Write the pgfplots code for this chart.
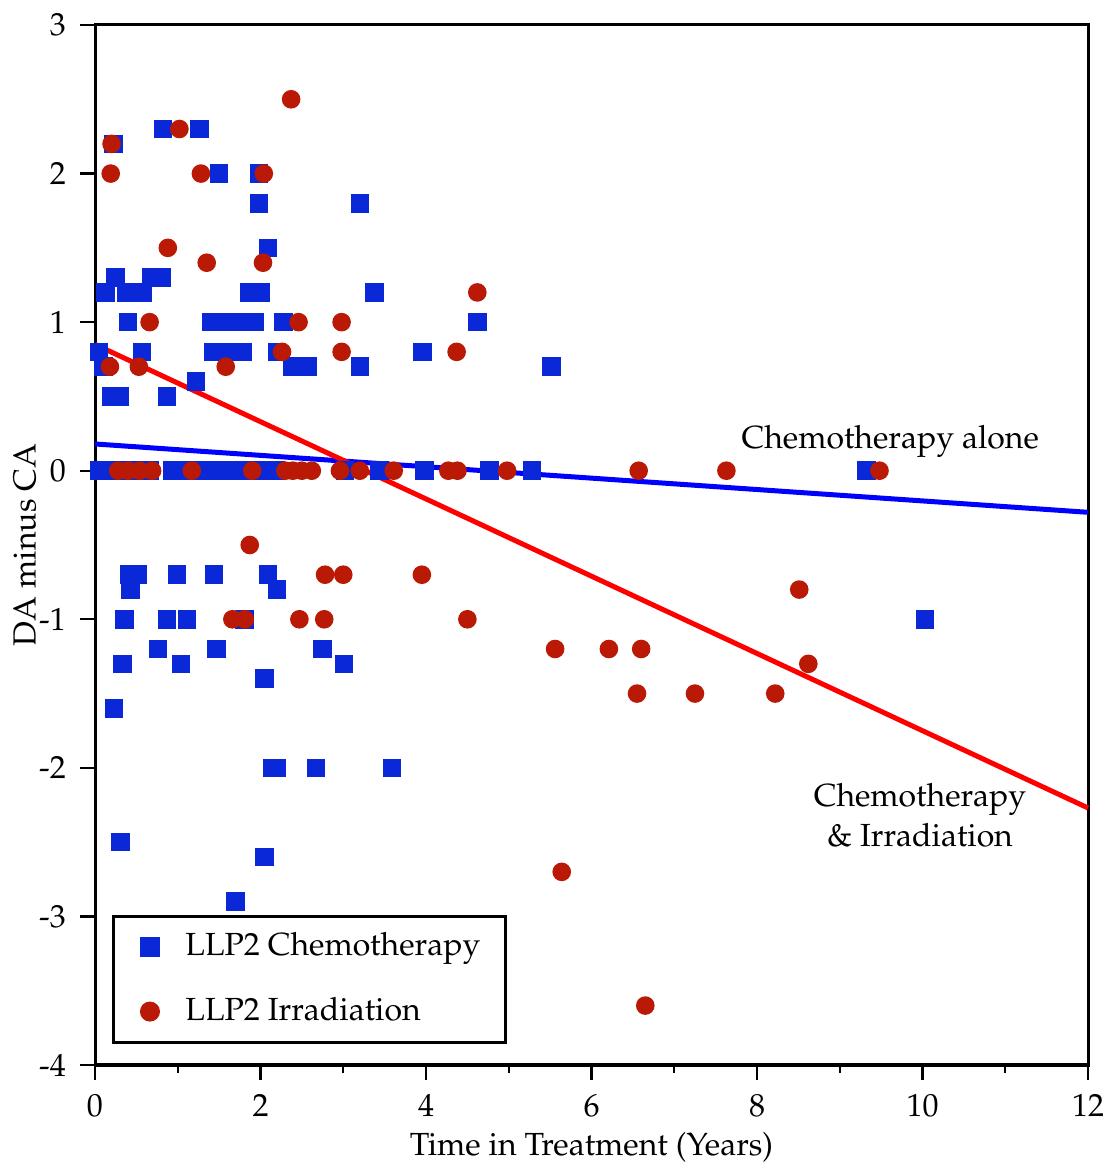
\documentclass[border=0pt]{standalone}
\usepackage[T1]{fontenc}
\usepackage{mathpazo}
\usepackage{pgfplots}
\pgfplotsset{compat=1.18}

\definecolor{chemoblue}{RGB}{10,40,215}
\definecolor{irradred}{RGB}{185,25,5}
\definecolor{fitblue}{RGB}{0,0,255}
\definecolor{fitred}{RGB}{255,0,0}

\begin{document}
\begin{tikzpicture}
\begin{axis}[
  scale only axis,
  width=248.25pt, height=260pt,
  xmin=0, xmax=12, ymin=-4, ymax=3,
  axis line style={line width=0.75pt},
  xtick={0,2,...,12},
  minor xtick={1,3,...,11},
  ytick={-4,...,3},
  yticklabels={-4,-3,-2,-1,0,1,2,3},
  xticklabels={0,2,4,6,8,10,12},
  tick align=outside,
  xtick pos=bottom, ytick pos=left,
  major tick length=3.75pt,
  minor tick length=2pt,
  every tick/.style={black, line width=0.6pt},
  tick label style={font=\fontsize{8pt}{9.6pt}\selectfont},
  label style={font=\fontsize{8pt}{9.6pt}\selectfont},
  xlabel={Time in Treatment (Years)},
  ylabel={DA minus CA},
  xlabel style={at={(axis description cs:0.5,-0.0788)}, anchor=center},
  ylabel style={at={(axis description cs:-0.0705,0.5)}, anchor=center},
  legend style={at={(axis cs:0.205,-2.99)}, anchor=north west,
    draw=black, line width=0.75pt,
    font=\fontsize{8pt}{9.6pt}\selectfont,
    inner xsep=4.25pt, inner ysep=2.1pt, row sep=4.75pt,
    /tikz/every odd column/.append style={column sep=4.75pt},
    legend cell align=left},
  legend image code/.code={%
    \path (-4.5pt,0pt);
    \draw[#1] plot coordinates {(0pt,0pt)};},
  clip=false,
]
% fitted trends
\addplot[fitblue, line width=1.25pt, forget plot] coordinates {(0,0.18) (12,-0.28)};
\addplot[fitred, line width=1.25pt, forget plot] coordinates {(0,0.85) (12,-2.27)};

% chemotherapy only
\addplot[only marks, mark=square*, mark size=2.125pt, color=chemoblue, mark options={draw=none, fill=chemoblue}] coordinates {
 (0.82,2.3) (1.26,2.3) (0.22,2.2) (1.50,2.0) (1.98,2.0) (1.98,1.8) (3.20,1.8)
 (2.09,1.5)
 (0.25,1.3) (0.68,1.3) (0.81,1.3)
 (0.13,1.2) (0.38,1.2) (0.58,1.2) (1.87,1.2) (2.00,1.2) (3.38,1.2)
 (0.40,1.0) (1.40,1.0) (1.57,1.0) (1.71,1.0) (1.93,1.0) (2.28,1.0) (4.62,1.0)
 (0.05,0.8) (0.57,0.8) (1.43,0.8) (1.63,0.8) (1.78,0.8) (2.20,0.8) (3.96,0.8)
 (0.10,0.7) (2.39,0.7) (2.57,0.7) (3.20,0.7) (5.52,0.7)
 (1.22,0.6)
 (0.20,0.5) (0.30,0.5) (0.87,0.5)
 (0.05,0) (0.18,0) (0.30,0) (0.48,0) (0.66,0) (0.93,0) (1.09,0) (1.27,0)
 (1.41,0) (1.53,0) (1.69,0) (1.81,0) (1.93,0) (2.09,0) (2.18,0) (3.02,0)
 (3.44,0) (3.98,0) (4.77,0) (5.28,0) (9.32,0)
 (0.42,-0.7) (0.52,-0.7) (0.99,-0.7) (1.44,-0.7) (2.09,-0.7)
 (0.43,-0.8) (2.20,-0.8)
 (0.36,-1.0) (0.87,-1.0) (1.11,-1.0) (1.81,-1.0) (10.03,-1.0)
 (0.76,-1.2) (1.47,-1.2) (2.75,-1.2)
 (0.33,-1.3) (1.04,-1.3) (3.01,-1.3)
 (2.05,-1.4) (0.23,-1.6)
 (2.14,-2.0) (2.20,-2.0) (2.67,-2.0) (3.59,-2.0)
 (0.31,-2.5) (2.05,-2.6) (1.70,-2.9)
};
\addlegendentry{LLP2 Chemotherapy}

% chemotherapy with irradiation
\addplot[only marks, mark=*, mark size=2.125pt, color=irradred, mark options={draw=none, fill=irradred}] coordinates {
 (2.37,2.5) (1.02,2.3) (0.20,2.2) (0.19,2.0) (1.28,2.0) (2.04,2.0)
 (0.88,1.5) (1.35,1.4) (2.03,1.4) (4.62,1.2)
 (0.66,1.0) (2.46,1.0) (2.98,1.0)
 (2.26,0.8) (2.98,0.8) (4.37,0.8)
 (0.18,0.7) (0.53,0.7) (1.58,0.7)
 (0.28,0) (0.40,0) (0.54,0) (0.69,0) (1.17,0) (1.90,0) (2.30,0) (2.39,0)
 (2.50,0) (2.62,0) (2.96,0) (3.20,0) (3.61,0) (4.27,0) (4.38,0) (4.98,0)
 (6.57,0) (7.63,0) (9.48,0)
 (1.87,-0.5)
 (2.78,-0.7) (3.00,-0.7) (3.95,-0.7)
 (8.51,-0.8)
 (1.66,-1.0) (1.81,-1.0) (2.47,-1.0) (2.77,-1.0) (4.50,-1.0)
 (5.56,-1.2) (6.21,-1.2) (6.60,-1.2)
 (8.62,-1.3)
 (6.55,-1.5) (7.25,-1.5) (8.22,-1.5)
 (5.64,-2.7) (6.65,-3.6)
};
\addlegendentry{LLP2 Irradiation}

\node[font=\fontsize{8pt}{9.6pt}\selectfont] at (axis cs:9.61,0.20) {Chemotherapy alone};
\node[font=\fontsize{8pt}{10pt}\selectfont, align=center] at (axis cs:9.97,-2.32) {Chemotherapy\\\& Irradiation};
\end{axis}
\pgfresetboundingbox
\path ([shift={(-23.75pt,-25.75pt)}]current axis.south west) rectangle ([shift={(5pt,6.25pt)}]current axis.north east);
\end{tikzpicture}
\end{document}
